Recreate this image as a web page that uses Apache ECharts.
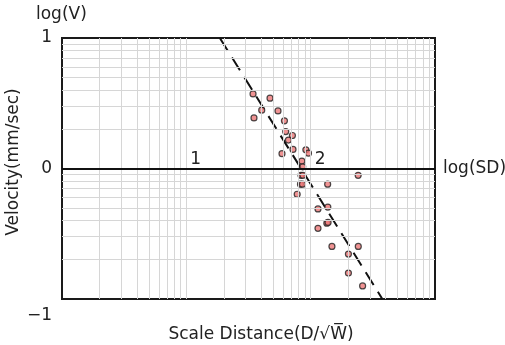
<!DOCTYPE html>
<html>
<head>
<meta charset="utf-8">
<script src="https://cdn.jsdelivr.net/npm/echarts@6/dist/echarts.min.js"></script>
<style>
  html, body { margin: 0; padding: 0; background: #fff; }
  #main { width: 505px; height: 345px; }
</style>
</head>
<body>
<div id="main"></div>
<script>
// scale distance (D/sqrt(W)) and peak velocity (mm/sec)
var sd = [34.4, 47.1, 40.4, 35.0, 54.6, 61.5, 63.0, 71.3, 66.2, 72.1, 58.8, 91.5, 96.0, 85.0, 86.3,
  83.6, 86.6, 241, 82.8, 85.9, 137, 77.9, 114.5, 137.4, 134.9, 138, 114.5, 148.3, 241.5, 201.2, 201.2, 261.7]
var vel = [3.73, 3.46, 2.80, 2.44, 2.76, 2.32, 1.92, 1.79, 1.65, 1.40, 1.30, 1.39, 1.31, 1.14, 1.03,
  0.887, 0.887, 0.887, 0.759, 0.759, 0.759, 0.635, 0.490, 0.506, 0.381, 0.386, 0.348, 0.253, 0.253, 0.221, 0.158, 0.126]

// dashed regression line end points
var fitSD = [18.6, 377]
var fitV = [10, 0.1]

// tick labels (log values)
var xTickValues = [10, 100]
var xTickLabels = ['1', '2']
var yTickValues = [0.1, 1, 10]
var yTickLabels = ['\u22121', '0', '1']

var font = 'DejaVu Sans'
var txt = '#222'

function sameLog (a, b) {
  return Math.abs(Math.log10(a) - Math.log10(b)) < 1e-6
}

// minor grid lines 2..9 of every decade
var gridLines = []
;[1, 10, 100].forEach(function (d) {
  for (var k = 2; k <= 10; k++) {
    if (d * k < 1000) gridLines.push({ xAxis: d * k })
  }
})
;[0.1, 1].forEach(function (d) {
  for (var k = 2; k <= 9; k++) gridLines.push({ yAxis: d * k })
})

var myChart = echarts.init(document.getElementById('main'))
myChart.setOption({
  animation: false,
  textStyle: { fontFamily: font },
  grid: {
    left: 62, right: 70, top: 38, bottom: 46,
    show: true,
    borderColor: '#1a1a1a',
    borderWidth: 2,
    outerBoundsMode: 'none'
  },
  xAxis: {
    type: 'log',
    logBase: 10,
    min: 1,
    max: 1000,
    axisLine: { show: false },
    axisTick: { show: false },
    splitLine: { show: false },
    axisLabel: {
      margin: -148,
      align: 'left',
      padding: [0, 0, 0, 4],
      fontSize: 17,
      color: txt,
      fontFamily: font,
      formatter: function (v) {
        for (var i = 0; i < xTickValues.length; i++) {
          if (sameLog(v, xTickValues[i])) return xTickLabels[i]
        }
        return ''
      }
    }
  },
  yAxis: {
    type: 'log',
    logBase: 10,
    min: 0.1,
    max: 10,
    axisLine: { show: false },
    axisTick: { show: false },
    splitLine: { show: false },
    axisLabel: {
      margin: 10,
      fontSize: 17,
      color: txt,
      fontFamily: font,
      formatter: function (v) {
        for (var i = 0; i < yTickValues.length; i++) {
          if (sameLog(v, yTickValues[i])) {
            return i === 0 ? '{lo|' + yTickLabels[i] + '}' : yTickLabels[i]
          }
        }
        return ''
      },
      rich: {
        lo: { fontSize: 17, color: txt, fontFamily: font, padding: [33, 0, 0, 0] }
      }
    }
  },
  graphic: [
    { type: 'text', left: 36, top: 6, style: { text: 'log(V)', font: '17px "DejaVu Sans"', fill: txt } },
    { type: 'text', x: 443, y: 169, style: { text: 'log(SD)', font: '17px "DejaVu Sans"', fill: txt, verticalAlign: 'middle' } },
    { type: 'text', x: 14, y: 162, rotation: Math.PI / 2,
      style: { text: 'Velocity(mm/sec)', font: '17px "DejaVu Sans"', fill: txt, align: 'center', verticalAlign: 'middle' } },
    { type: 'text', x: 261, y: 335,
      style: { text: 'Scale Distance(D/\u221AW\u0305)', font: '17px "DejaVu Sans"', fill: txt, align: 'center', verticalAlign: 'middle' } }
  ],
  series: [
    {
      type: 'line',
      data: [],
      silent: true,
      markLine: {
        silent: true,
        symbol: ['none', 'none'],
        label: { show: false },
        lineStyle: { color: '#d6d6d6', width: 1, type: 'solid' },
        data: gridLines
      }
    },
    {
      type: 'line',
      data: [],
      silent: true,
      markLine: {
        silent: true,
        symbol: ['none', 'none'],
        label: { show: false },
        lineStyle: { color: '#111', width: 2, type: 'solid' },
        data: [{ yAxis: 1 }]
      }
    },
    {
      name: 'fit',
      type: 'line',
      symbol: 'none',
      lineStyle: { color: '#111', width: 2, type: [15, 8] },
      data: fitSD.map(function (x, i) { return [x, fitV[i]] }),
      z: 3
    },
    {
      name: 'data',
      type: 'scatter',
      symbol: 'circle',
      symbolSize: 6,
      itemStyle: { color: '#ec7878', borderColor: '#222', borderWidth: 1.2 },
      data: sd.map(function (x, i) { return [x, vel[i]] }),
      z: 4
    }
  ]
})
window.addEventListener('resize', () => { myChart.resize() })
</script>
</body>
</html>
